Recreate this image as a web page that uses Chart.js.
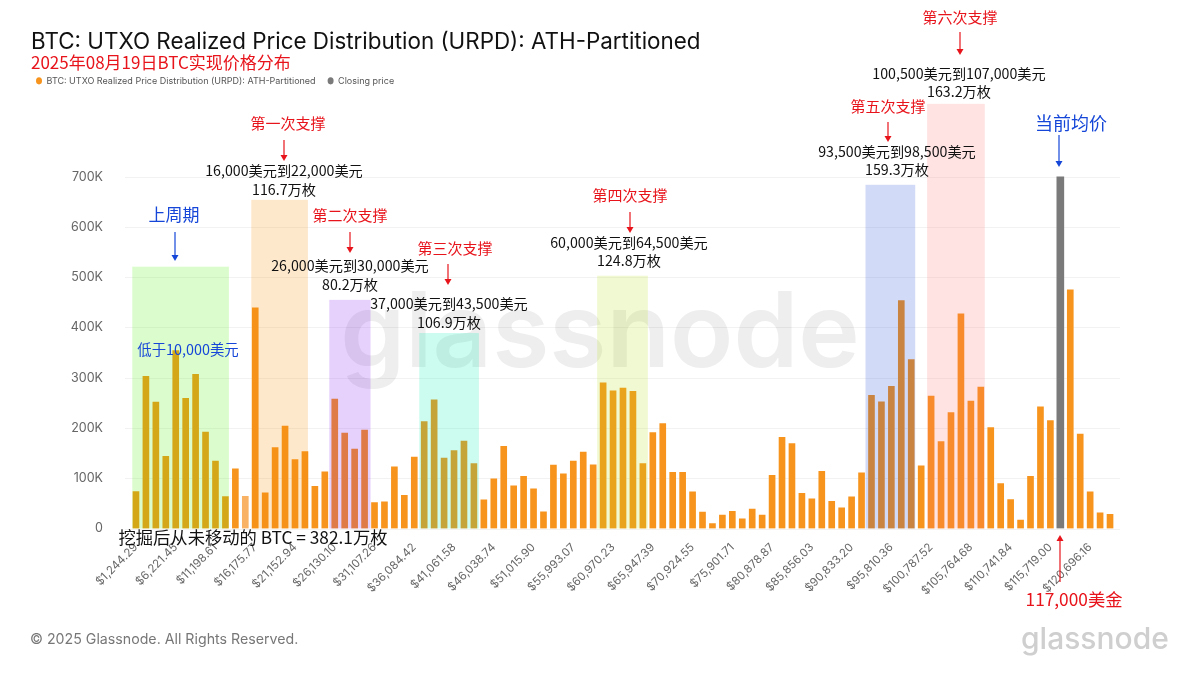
<!DOCTYPE html>
<html>
<head>
<meta charset="utf-8">
<style>
  html, body { margin: 0; padding: 0; background: #fff; }
  #wrap { width: 1200px; height: 675px; }
</style>
<script src="https://cdn.jsdelivr.net/npm/chart.js@4/dist/chart.umd.min.js"></script>
</head>
<body>
<div id="wrap"><canvas id="urpd" width="1200" height="675"></canvas></div>
<script>
// tick labels, one every 4th price bucket
const tickLabels = ['$1,244.29','$6,221.45','$11,198.61','$16,175.77','$21,152.94','$26,130.10','$31,107.26','$36,084.42','$41,061.58','$46,038.74','$51,015.90','$55,993.07','$60,970.23','$65,947.39','$70,924.55','$75,901.71','$80,878.87','$85,856.03','$90,833.20','$95,810.36','$100,787.52','$105,764.68','$110,741.84','$115,719.00','$120,696.16'];
const yTicks = [0, 100000, 200000, 300000, 400000, 500000, 600000, 700000];

// supply per bucket (in thousands of BTC)
const supplyK = [
  73.5,302.6,251.6,143.7,354,259,306.6,192,134,63.5,
  118.5,64,439,71,161,204,137,153,84,113,
  257.6,190,158,196,51.6,53,122.5,66,142,212.6,
  256,140,155,174,129,57,98.7,163.6,84.8,104,
  79,33,126,109,134,152,126.5,290,274,279.5,
  273,129,191,208.6,112,112,73,32.5,10,26.5,
  34.4,19,38.4,26.5,106,181.5,169,70,59,114,
  54,41,63,110.6,265,252,283,453.6,336,124.5,
  263.6,173,230.5,427,253.6,281.5,200.7,89.4,57.6,16.6,
  104,242,215,null,475,188,73,31,28
];

// the closing price sits in this bucket
const closingBucket = 93;
const closingK = 700;

const categories = supplyK.map((_, i) => (i % 4 === 0 ? tickLabels[i / 4] : ''));
const supplyValues = supplyK.map(v => (v === null ? null : v * 1000));
const closingValues = supplyK.map((_, i) => (i === closingBucket ? closingK * 1000 : null));

// shaded support zones: first/last bucket (fractional) and height
const zones = [
  { from: -0.37, to: 9.35, top: 521000, color: 'rgba(77,245,5,0.2)' },
  { from: 11.6, to: 17.3, top: 654000, color: 'rgba(245,141,0,0.2)' },
  { from: 19.45, to: 23.6, top: 455000, color: 'rgba(123,23,236,0.2)' },
  { from: 28.5, to: 34.5, top: 389000, color: 'rgba(0,236,177,0.2)' },
  { from: 46.4, to: 51.5, top: 503000, color: 'rgba(182,227,23,0.2)' },
  { from: 73.4, to: 78.4, top: 684000, color: 'rgba(23,68,214,0.2)' },
  { from: 79.6, to: 85.4, top: 845000, color: 'rgba(255,109,109,0.2)' }
];

const RED = '#e8141c';
const BLUE = '#1546d8';
const CJK = '"Noto Sans CJK SC", "Noto Sans", sans-serif';

// text notes on top of the chart
const notes = [
  ['第一次支撑', 288, 123, RED, 15],
  ['16,000美元到22,000美元', 284, 171, '#111', 14.2],
  ['116.7万枚', 284, 190, '#111', 14.2],
  ['第二次支撑', 350, 215, RED, 15],
  ['26,000美元到30,000美元', 350, 266, '#111', 14.2],
  ['80.2万枚', 350, 285, '#111', 14.2],
  ['第三次支撑', 455, 248, RED, 15],
  ['37,000美元到43,500美元', 449, 304, '#111', 14.2],
  ['106.9万枚', 449, 323, '#111', 14.2],
  ['第四次支撑', 630, 195, RED, 15],
  ['60,000美元到64,500美元', 629, 243, '#111', 14.2],
  ['124.8万枚', 629, 261, '#111', 14.2],
  ['第五次支撑', 888, 106, RED, 15],
  ['93,500美元到98,500美元', 897, 152, '#111', 14.2],
  ['159.3万枚', 897, 170, '#111', 14.2],
  ['第六次支撑', 960, 17, RED, 15],
  ['100,500美元到107,000美元', 959, 74, '#111', 14.2],
  ['163.2万枚', 959, 92, '#111', 14.2],
  ['当前均价', 1071, 123, BLUE, 18],
  ['上周期', 174, 215, BLUE, 17],
  ['低于10,000美元', 188, 350, BLUE, 14.4],
  ['挖掘后从未移动的 BTC = 382.1万枚', 253, 537, '#111', 17.3],
  ['117,000美金', 1074, 599, RED, 17.3]
];

// arrows: x1, y1 to x2, y2
const arrows = [
  [284, 140, 284, 161, RED],
  [350, 232, 350, 253, RED],
  [448, 264, 448, 285, RED],
  [630, 212, 630, 233, RED],
  [888, 122, 888, 142, RED],
  [960, 32, 960, 55, RED],
  [1059, 135, 1059, 167, BLUE],
  [175, 232, 175, 261, BLUE],
  [1060, 582, 1060, 535, RED]
];

function drawArrow(c, x1, y1, x2, y2, color) {
  const dir = y2 > y1 ? 1 : -1;
  c.strokeStyle = color;
  c.fillStyle = color;
  c.lineWidth = 1.2;
  c.beginPath();
  c.moveTo(x1, y1);
  c.lineTo(x2, y2 - dir * 4);
  c.stroke();
  c.beginPath();
  c.moveTo(x2, y2);
  c.lineTo(x2 - 3.5, y2 - dir * 6);
  c.lineTo(x2 + 3.5, y2 - dir * 6);
  c.closePath();
  c.fill();
}

// watermark and horizontal grid, below the bars
const backdrop = {
  id: 'backdrop',
  afterLayout(chart) {
    // legend sits closer to the left edge than its padding allows
    chart.legend.left -= 7;
  },
  beforeDatasetsDraw(chart) {
    const c = chart.ctx;
    const area = chart.chartArea;
    const y = chart.scales.y;
    c.save();
    c.font = '600 104px Inter, sans-serif';
    c.fillStyle = '#eeeeee';
    c.textAlign = 'center';
    c.textBaseline = 'alphabetic';
    c.fillText('glassnode', 600, 367);
    c.strokeStyle = 'rgba(0,0,0,0.05)';
    c.lineWidth = 1;
    y.ticks.forEach(t => {
      const py = Math.round(y.getPixelForValue(t.value)) + 0.5;
      c.beginPath();
      c.moveTo(area.left - 6, py);
      c.lineTo(area.right + 5, py);
      c.stroke();
    });
    c.restore();
  }
};

// zones, notes and footer, on top of the bars
const overlay = {
  id: 'overlay',
  afterDatasetsDraw(chart) {
    const c = chart.ctx;
    const { x, y } = chart.scales;
    c.save();
    zones.forEach(z => {
      const left = x.getPixelForValue(z.from);
      const right = x.getPixelForValue(z.to);
      const top = y.getPixelForValue(z.top);
      c.fillStyle = z.color;
      c.fillRect(left, top, right - left, y.getPixelForValue(0) - top);
    });
    c.textAlign = 'center';
    c.textBaseline = 'middle';
    notes.forEach(([text, nx, ny, color, size]) => {
      c.font = size + 'px ' + CJK;
      c.fillStyle = color;
      c.fillText(text, nx, ny);
    });
    arrows.forEach(a => drawArrow(c, a[0], a[1], a[2], a[3], a[4]));

    c.textAlign = 'left';
    c.font = '14.2px Inter, sans-serif';
    c.fillStyle = '#777';
    c.fillText('© 2025 Glassnode. All Rights Reserved.', 30, 640);
    c.font = '500 30px Inter, sans-serif';
    c.fillStyle = '#cfcfcf';
    c.fillText('glassnode', 1021, 640);
    c.restore();
  }
};

new Chart(document.getElementById('urpd').getContext('2d'), {
  type: 'bar',
  data: {
    labels: categories,
    datasets: [
      {
        label: 'BTC: UTXO Realized Price Distribution (URPD): ATH-Partitioned',
        data: supplyValues,
        grouped: false,
        barThickness: 6,
        backgroundColor: ctx => (ctx.dataIndex === 11 ? '#f9b264' : '#f7941d')
      },
      {
        label: 'Closing price',
        data: closingValues,
        grouped: false,
        barThickness: 7,
        backgroundColor: '#7a7a7a'
      }
    ]
  },
  options: {
    responsive: false,
    animation: false,
    layout: { padding: { left: 31, right: 85, top: 24, bottom: 0 } },
    scales: {
      x: {
        offset: true,
        grid: { display: false },
        border: { display: false },
        afterFit: s => { s.height = 146.5; },
        ticks: {
          autoSkip: false,
          minRotation: 45,
          maxRotation: 45,
          padding: 4,
          color: '#666',
          font: { family: 'Inter, sans-serif', size: 11.5 }
        }
      },
      y: {
        min: 0,
        max: 862000,
        grid: { display: false },
        border: { display: false },
        afterFit: s => { s.width = 100; },
        afterBuildTicks: s => { s.ticks = yTicks.map(v => ({ value: v })); },
        ticks: {
          padding: 20,
          color: '#666',
          font: { family: 'Inter, sans-serif', size: 12.5 },
          callback: v => (v === 0 ? '0' : v / 1000 + 'K')
        }
      }
    },
    plugins: {
      tooltip: { enabled: false },
      title: {
        display: true,
        align: 'start',
        text: 'BTC: UTXO Realized Price Distribution (URPD): ATH-Partitioned',
        color: '#111',
        font: { family: 'Inter, sans-serif', size: 22.4, weight: 'normal', lineHeight: 1.1 },
        padding: { top: 6, bottom: -1 }
      },
      subtitle: {
        display: true,
        align: 'start',
        text: '2025年08月19日BTC实现价格分布',
        color: RED,
        font: { family: CJK, size: 17, lineHeight: 1.1 },
        padding: { top: 0, bottom: -8 }
      },
      legend: {
        display: true,
        position: 'top',
        align: 'start',
        labels: {
          usePointStyle: true,
          pointStyle: 'circle',
          boxHeight: 5,
          pointStyleWidth: 6,
          padding: 12,
          color: '#555',
          font: { family: 'Inter, sans-serif', size: 9 }
        }
      }
    }
  },
  plugins: [backdrop, overlay]
});
</script>
</body>
</html>
